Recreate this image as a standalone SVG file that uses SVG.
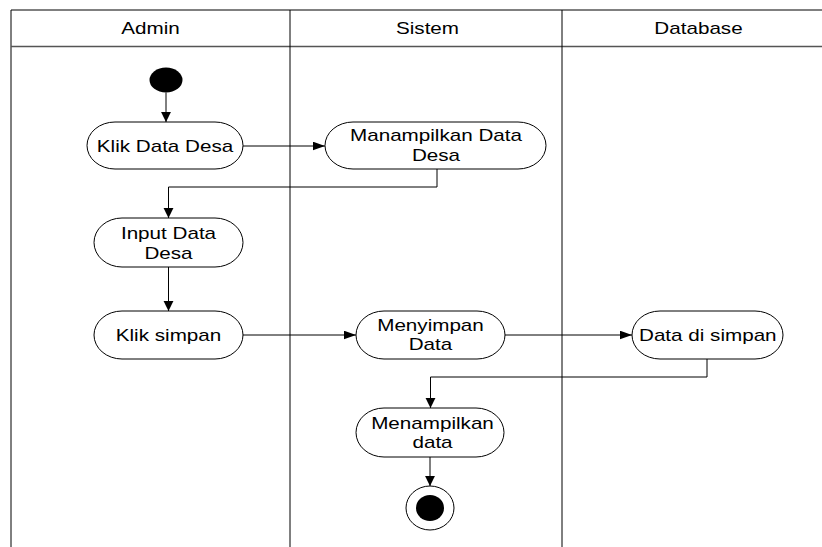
<svg xmlns="http://www.w3.org/2000/svg" width="822" height="547" viewBox="0 0 822 547">
<style>
.lane{stroke:#000;stroke-width:1;fill:none}
.hdr{stroke:#555;stroke-width:1.6;fill:none}
.node{fill:#fff;stroke:#000;stroke-width:1}
.t{font-family:"Liberation Sans",Arial,sans-serif;font-size:16px;fill:#000;text-anchor:middle}
.c{fill:none;stroke:#000;stroke-width:1}
</style>
<defs>
<marker id="ah" markerUnits="userSpaceOnUse" markerWidth="13" markerHeight="9" refX="12.5" refY="4.5" orient="auto">
<path d="M0,0 L12.5,4.5 L0,9 z" fill="#000"/>
</marker>
<marker id="av" markerUnits="userSpaceOnUse" markerWidth="11" markerHeight="11" refX="10.5" refY="5.2" orient="auto">
<path d="M0,0 L10.5,5.2 L0,10.4 z" fill="#000"/>
</marker>
</defs>
<rect width="822" height="547" fill="#fff"/>
<g id="swimlanes">
<path class="lane" d="M11,547 V10 H822"/>
<path class="hdr" d="M11,46.5 H822"/>
<path class="lane" d="M290,10 V547 M562,10 V547"/>
<text class="t" transform="translate(150.5,34) scale(1.29,1)">Admin</text>
<text class="t" transform="translate(427.5,34) scale(1.29,1)">Sistem</text>
<text class="t" transform="translate(698.5,34) scale(1.29,1)">Database</text>
</g>
<g id="connectors">
<path class="c" d="M166,92.5 V122" marker-end="url(#av)"/>
<path class="c" d="M243,146 H325" marker-end="url(#ah)"/>
<path class="c" d="M437,169 V187 H168.5 V218" marker-end="url(#av)"/>
<path class="c" d="M168.5,267 V311" marker-end="url(#av)"/>
<path class="c" d="M243,335 H356" marker-end="url(#ah)"/>
<path class="c" d="M505,335 H632" marker-end="url(#ah)"/>
<path class="c" d="M707,359 V377 H430.5 V408" marker-end="url(#av)"/>
<path class="c" d="M430,457 V486" marker-end="url(#av)"/>
</g>
<g id="start">
<ellipse cx="166" cy="80" rx="16.5" ry="12.5" fill="#000"/>
</g>
<g id="klik-data-desa">
<rect class="node" x="87" y="122" width="156" height="47" rx="28" ry="23.5"/>
<text class="t" transform="translate(165,151.5) scale(1.29,1)">Klik Data Desa</text>
</g>
<g id="manampilkan-data-desa">
<rect class="node" x="325" y="122" width="221" height="47" rx="28" ry="23.5"/>
<text class="t" transform="translate(436,140.5) scale(1.29,1)">Manampilkan Data</text>
<text class="t" transform="translate(436,161) scale(1.29,1)">Desa</text>
</g>
<g id="input-data-desa">
<rect class="node" x="94" y="218" width="149" height="49" rx="28" ry="24.5"/>
<text class="t" transform="translate(168.5,238.5) scale(1.29,1)">Input Data</text>
<text class="t" transform="translate(168.5,259) scale(1.29,1)">Desa</text>
</g>
<g id="klik-simpan">
<rect class="node" x="94" y="311" width="149" height="48" rx="28" ry="24"/>
<text class="t" transform="translate(168.5,340.5) scale(1.29,1)">Klik simpan</text>
</g>
<g id="menyimpan-data">
<rect class="node" x="356" y="311" width="149" height="48" rx="28" ry="24"/>
<text class="t" transform="translate(430.5,331) scale(1.29,1)">Menyimpan</text>
<text class="t" transform="translate(430.5,350) scale(1.29,1)">Data</text>
</g>
<g id="data-di-simpan">
<rect class="node" x="632" y="311" width="151" height="48" rx="28" ry="24"/>
<text class="t" transform="translate(707.8,340.5) scale(1.29,1)">Data di simpan</text>
</g>
<g id="menampilkan-data">
<rect class="node" x="356" y="408" width="148" height="49" rx="28" ry="24.5"/>
<text class="t" transform="translate(432.5,429) scale(1.29,1)">Menampilkan</text>
<text class="t" transform="translate(432.5,448) scale(1.29,1)">data</text>
</g>
<g id="end">
<ellipse cx="430" cy="508" rx="24" ry="22" fill="#fff" stroke="#000" stroke-width="1"/>
<ellipse cx="430" cy="508" rx="14" ry="13" fill="#000"/>
</g>
</svg>
